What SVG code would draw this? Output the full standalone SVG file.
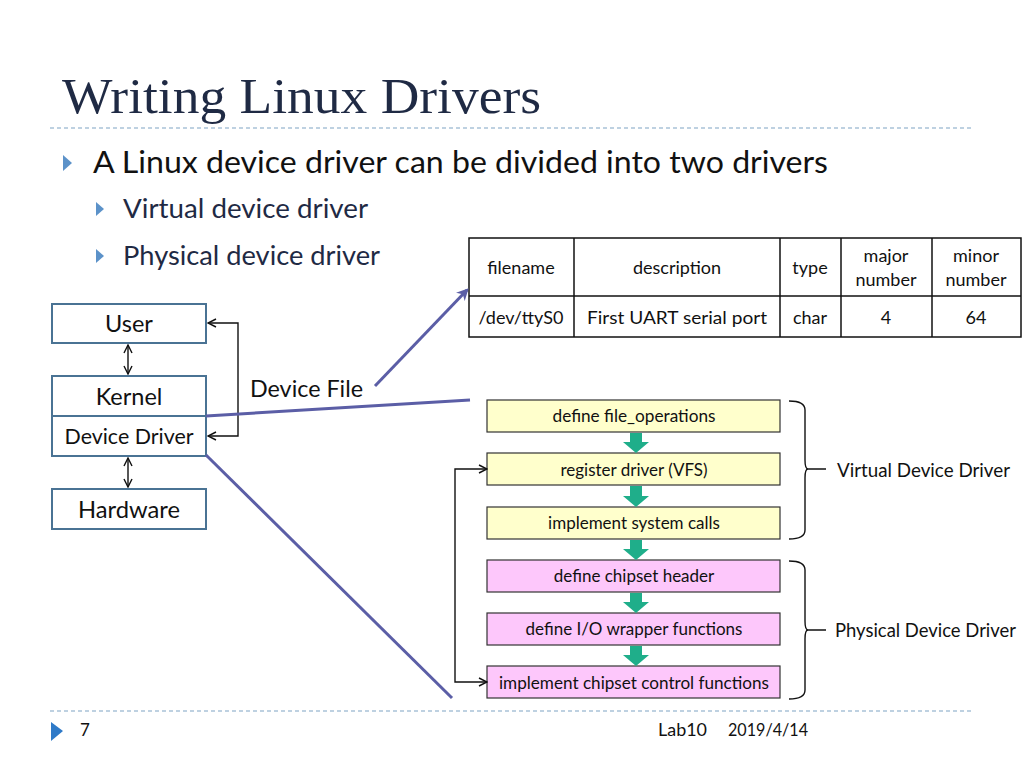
<svg xmlns="http://www.w3.org/2000/svg" width="1024" height="768" viewBox="0 0 1024 768">
<defs>
<style>
text{font-family:Lato,"Open Sans","Liberation Sans",sans-serif;fill:#111}
.title{font-family:"Liberation Serif",serif;font-size:50px;fill:#1f2a44}
.b1{font-size:30px}
.b2{font-size:26.5px;fill:#1f2a44}
.tb{font-size:18px;text-anchor:middle}
.box{fill:#fff;stroke:#4a7394;stroke-width:2}
.lbl{font-size:23.5px;text-anchor:middle}
.fy{fill:#ffffcc;stroke:#333;stroke-width:1.2}
.fp{fill:#fdc7fb;stroke:#333;stroke-width:1.2}
.ft{font-size:17px;text-anchor:middle}
.blk{fill:none;stroke:#111;stroke-width:1.4}
.pur{fill:none;stroke:#5b5ea6;stroke-width:3}
.dash{stroke:#7ea3c4;stroke-width:1.2;stroke-dasharray:4 3}
.teal{fill:#1fae8a}
.tri{fill:#3f7fbf}
</style>
<marker id="oa" viewBox="0 0 10 10" refX="9" refY="5" markerWidth="10" markerHeight="10" orient="auto-start-reverse" markerUnits="userSpaceOnUse"><path d="M1,1 L9,5 L1,9" fill="none" stroke="#111" stroke-width="1.4"/></marker>
<marker id="pa" viewBox="0 0 10 10" refX="8" refY="5" markerWidth="12" markerHeight="12" orient="auto" markerUnits="userSpaceOnUse"><path d="M0,0 L10,5 L0,10 L3,5 Z" fill="#5b5ea6"/></marker>
</defs>

<g id="header">
<text class="title" x="62" y="113" textLength="479" lengthAdjust="spacingAndGlyphs">Writing Linux Drivers</text>
<line class="dash" x1="50" y1="128" x2="972" y2="128"/>
<polygon class="tri" points="63,155 72,163 63,171" fill-opacity="0.85"/>
<text class="b1" x="93" y="173" textLength="735" lengthAdjust="spacingAndGlyphs">A Linux device driver can be divided into two drivers</text>
<polygon class="tri" points="96,202 104,209 96,216" fill-opacity="0.85"/>
<text class="b2" x="123" y="218" textLength="245" lengthAdjust="spacingAndGlyphs">Virtual device driver</text>
<polygon class="tri" points="96,249 104,256 96,263" fill-opacity="0.85"/>
<text class="b2" x="123" y="265" textLength="257" lengthAdjust="spacingAndGlyphs">Physical device driver</text>
</g>

<g id="table">
<rect x="469" y="238" width="552" height="99" fill="#fff" stroke="#111" stroke-width="1.5"/>
<line x1="469" y1="296" x2="1021" y2="296" stroke="#111" stroke-width="1.5"/>
<g stroke="#111" stroke-width="1.5">
<line x1="574" y1="238" x2="574" y2="337"/>
<line x1="780" y1="238" x2="780" y2="337"/>
<line x1="841" y1="238" x2="841" y2="337"/>
<line x1="932" y1="238" x2="932" y2="337"/>
</g>
<text class="tb" x="521" y="274">filename</text>
<text class="tb" x="677" y="274">description</text>
<text class="tb" x="810" y="274">type</text>
<text class="tb" x="886" y="262">major</text>
<text class="tb" x="886" y="286">number</text>
<text class="tb" x="976" y="262">minor</text>
<text class="tb" x="976" y="286">number</text>
<text class="tb" x="521" y="324">/dev/ttyS0</text>
<text class="tb" x="677" y="324" textLength="180" lengthAdjust="spacingAndGlyphs">First UART serial port</text>
<text class="tb" x="810" y="324">char</text>
<text class="tb" x="886" y="324">4</text>
<text class="tb" x="976" y="324">64</text>
</g>

<g id="user"><rect class="box" x="52" y="304" width="154" height="39"/><text class="lbl" x="129" y="332">User</text></g>
<g id="kernel"><rect class="box" x="52" y="376" width="154" height="40"/><text class="lbl" x="129" y="405">Kernel</text></g>
<g id="devdriver"><rect class="box" x="52" y="416" width="154" height="40"/><text class="lbl" x="129" y="444" style="font-size:21px" textLength="129" lengthAdjust="spacingAndGlyphs">Device Driver</text></g>
<g id="hardware"><rect class="box" x="52" y="489" width="154" height="40"/><text class="lbl" x="129" y="518" textLength="102" lengthAdjust="spacingAndGlyphs">Hardware</text></g>
<g id="devicefile-label"><text x="250" y="397" style="font-size:23px" textLength="113" lengthAdjust="spacingAndGlyphs">Device File</text></g>

<g id="f1"><rect class="fy" x="487" y="400" width="293" height="32"/><text class="ft" x="634" y="422" textLength="163" lengthAdjust="spacingAndGlyphs">define file_operations</text></g>
<g id="f2"><rect class="fy" x="487" y="453" width="293" height="32"/><text class="ft" x="634" y="476">register driver (VFS)</text></g>
<g id="f3"><rect class="fy" x="487" y="507" width="293" height="32"/><text class="ft" x="634" y="529">implement system calls</text></g>
<g id="f4"><rect class="fp" x="487" y="560" width="293" height="32"/><text class="ft" x="634" y="582">define chipset header</text></g>
<g id="f5"><rect class="fp" x="487" y="613" width="293" height="32"/><text class="ft" x="634" y="635">define I/O wrapper functions</text></g>
<g id="f6"><rect class="fp" x="487" y="666" width="293" height="32"/><text class="ft" x="634" y="689" textLength="270" lengthAdjust="spacingAndGlyphs">implement chipset control functions</text></g>

<g id="brace-labels">
<text x="837" y="477" style="font-size:18.5px" textLength="173" lengthAdjust="spacingAndGlyphs">Virtual Device Driver</text>
<text x="835" y="637" style="font-size:18.5px" textLength="181" lengthAdjust="spacingAndGlyphs">Physical Device Driver</text>
</g>

<g id="connectors">
<line class="blk" x1="128" y1="345" x2="128" y2="374" marker-start="url(#oa)" marker-end="url(#oa)"/>
<line class="blk" x1="128" y1="458" x2="128" y2="487" marker-start="url(#oa)" marker-end="url(#oa)"/>
<polyline class="blk" points="208,323 238,323 238,436 208,436" marker-start="url(#oa)" marker-end="url(#oa)"/>
<polyline class="blk" points="487,469 455,469 455,682 487,682" marker-start="url(#oa)" marker-end="url(#oa)"/>
<line class="pur" x1="375" y1="386" x2="467" y2="290" marker-end="url(#pa)"/>
<line class="pur" x1="206" y1="416" x2="470" y2="400"/>
<line class="pur" x1="206" y1="455" x2="452" y2="698"/>
<g class="teal">
<path d="M630,433 H642 V442 H649 L636,453 L623,442 H630 Z"/>
<path d="M630,486 H642 V496 H649 L636,507 L623,496 H630 Z"/>
<path d="M630,540 H642 V549 H649 L636,560 L623,549 H630 Z"/>
<path d="M630,593 H642 V602 H649 L636,613 L623,602 H630 Z"/>
<path d="M630,646 H642 V655 H649 L636,666 L623,655 H630 Z"/>
</g>
<path class="blk" d="M789,401 Q805,401 805,410 V460 Q805,469 808,469 H826 M808,469 Q805,469 805,478 V530 Q805,539 789,539"/>
<path class="blk" d="M789,561 Q805,561 805,570 V621 Q805,630 808,630 H826 M808,630 Q805,630 805,639 V690 Q805,699 789,699"/>
</g>

<g id="footer">
<line class="dash" x1="50" y1="711" x2="972" y2="711"/>
<polygon points="51,722 63,731 51,741" fill="#2f7ac8"/>
<text x="80" y="736" style="font-size:17px">7</text>
<text x="658" y="736" style="font-size:17px" textLength="49" lengthAdjust="spacingAndGlyphs">Lab10</text>
<text x="728" y="736" style="font-size:17px" textLength="80" lengthAdjust="spacingAndGlyphs">2019/4/14</text>
</g>
</svg>
